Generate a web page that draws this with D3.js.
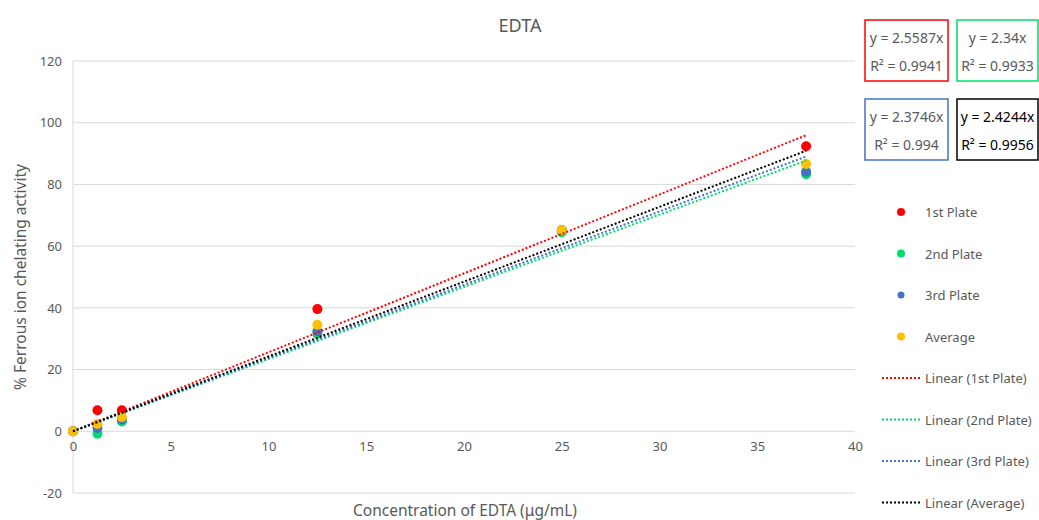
<!DOCTYPE html>
<html><head><meta charset="utf-8">
<script src="https://cdn.jsdelivr.net/npm/d3@7"></script>
<style>body{margin:0;background:#fff}svg{display:block}text{font-family:"Noto Sans",sans-serif}</style>
</head><body><svg id="c" width="1039" height="520"></svg>
<script>
const concentrations = [0, 1.25, 2.5, 12.5, 25, 37.5];
const plate1 = [0, 6.8, 6.8, 39.6, 65.0, 92.4];
const plate2 = [0, -0.8, 3.2, 31.5, 64.5, 83.3];
const plate3 = [0, 1.1, 3.8, 32.4, 65.2, 84.1];
const average = [0, 2.4, 4.6, 34.5, 65.2, 86.6];
const seriesNames = ["1st Plate", "2nd Plate", "3rd Plate", "Average"];
const slopes = [2.5587, 2.34, 2.3746, 2.4244];
const r2 = ["0.9941", "0.9933", "0.994", "0.9956"];
const xTicks = [0, 5, 10, 15, 20, 25, 30, 35, 40];
const yTicks = [-20, 0, 20, 40, 60, 80, 100, 120];
const colors = ["#ff0000", "#00dc6e", "#4472c4", "#ffc000"];
const lineColors = ["#ff0000", "#00dc6e", "#4472c4", "#000000"];
const boxColors = ["#ff0000", "#00dc6e", "#4472c4", "#000000"];

const svg = d3.select("#c");
const x = d3.scaleLinear().domain([0, 40]).range([73, 855]);
const y = d3.scaleLinear().domain([-20, 120]).range([493, 61]);
const grey = "#595959";
const fmt = d => String(d);

// gridlines
svg.append("g").selectAll("line").data(yTicks).join("line")
  .attr("x1", x(0)).attr("x2", x(40)).attr("y1", d => y(d)).attr("y2", d => y(d))
  .attr("stroke", "#d9d9d9").attr("stroke-width", 1);
svg.append("line").attr("x1", x(0)).attr("x2", x(0)).attr("y1", y(-20)).attr("y2", y(120))
  .attr("stroke", "#d9d9d9");

// axes labels
const yAxis = svg.append("g").attr("transform", `translate(${x(0)},0)`)
  .call(d3.axisLeft(y).tickValues(yTicks).tickFormat(fmt).tickSize(0).tickPadding(11));
yAxis.select(".domain").remove();
yAxis.selectAll("text").attr("font-size", 13).attr("fill", grey).attr("font-family", "Noto Sans");
const xAxis = svg.append("g").attr("transform", `translate(0,${y(0)})`)
  .call(d3.axisBottom(x).tickValues(xTicks).tickFormat(fmt).tickSize(0).tickPadding(10));
xAxis.select(".domain").remove();
xAxis.selectAll("text").attr("font-size", 13).attr("fill", grey).attr("font-family", "Noto Sans");

svg.append("text").attr("x", 520).attr("y", 32).attr("text-anchor", "middle")
  .attr("font-size", 18).attr("fill", grey).text("EDTA");
svg.append("text").attr("transform", `translate(26,${(y(-20)+y(120))/2}) rotate(-90)`)
  .attr("text-anchor", "middle").attr("font-size", 15.5).attr("fill", grey)
  .text("% Ferrous ion chelating activity");
svg.append("text").attr("x", 465).attr("y", 516).attr("text-anchor", "middle")
  .attr("font-size", 15.5).attr("fill", grey).text("Concentration of EDTA (μg/mL)");

// points
const all = [plate1, plate2, plate3, average];
all.forEach((vals, i) => {
  svg.append("g").selectAll("circle").data(vals).join("circle")
    .attr("cx", (d, j) => x(concentrations[j])).attr("cy", d => y(d))
    .attr("r", 5).attr("fill", colors[i]);
});
// trendlines
const xMax = d3.max(concentrations);
slopes.forEach((s, i) => {
  svg.append("line").attr("x1", x(0)).attr("y1", y(0)).attr("x2", x(xMax)).attr("y2", y(s * xMax))
    .attr("stroke", lineColors[i]).attr("stroke-width", 2).attr("stroke-dasharray", "2,2");
});

// equation boxes
const boxPos = [[865, 20], [957, 20], [865, 99], [957, 99]];
slopes.forEach((s, i) => {
  const [bx, by] = boxPos[i];
  const w = i % 2 === 0 ? 83 : 81;
  const g = svg.append("g");
  g.append("rect").attr("x", bx).attr("y", by).attr("width", w).attr("height", 61)
    .attr("fill", "#fff").attr("stroke", boxColors[i]).attr("stroke-width", 1.5);
  const tc = i === 3 ? "#000" : grey;
  g.append("text").attr("x", bx + w / 2).attr("y", by + 23).attr("text-anchor", "middle")
    .attr("font-size", 14).attr("fill", tc).text(`y = ${s}x`);
  g.append("text").attr("x", bx + w / 2).attr("y", by + 51).attr("text-anchor", "middle")
    .attr("font-size", 14).attr("fill", tc).text(`R² = ${r2[i]}`);
});

// legend
const legY0 = 212, legStep = 41.5;
seriesNames.forEach((n, i) => {
  const ly = legY0 + i * legStep;
  svg.append("circle").attr("cx", 901).attr("cy", ly).attr("r", i === 2 ? 3.5 : 4).attr("fill", colors[i]);
  svg.append("text").attr("x", 925).attr("y", ly + 5).attr("font-size", 13).attr("fill", grey).text(n);
});
seriesNames.forEach((n, i) => {
  const ly = legY0 + (i + 4) * legStep;
  svg.append("line").attr("x1", 882).attr("x2", 920).attr("y1", ly).attr("y2", ly)
    .attr("stroke", lineColors[i]).attr("stroke-width", 2).attr("stroke-dasharray", "2,2");
  svg.append("text").attr("x", 925).attr("y", ly + 5).attr("font-size", 13).attr("fill", grey).text(`Linear (${n})`);
});
</script></body></html>
